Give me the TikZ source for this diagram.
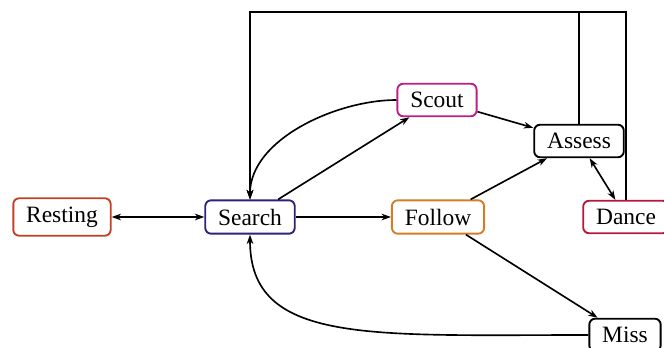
\documentclass[tikz,border=0pt]{standalone}
\usepackage{fontspec}
\setmainfont{Liberation Serif}
\usetikzlibrary{arrows.meta,positioning}

\definecolor{restred}{RGB}{196,64,36}
\definecolor{searchblue}{RGB}{45,35,120}
\definecolor{scoutmag}{RGB}{190,30,130}
\definecolor{followorg}{RGB}{210,125,40}
\definecolor{dancered}{RGB}{180,25,60}

\begin{document}
\begin{tikzpicture}[
    x=0.015cm,
    y=-0.015cm,
    >={Stealth[length=4pt,width=2.8pt,inset=1.2pt]},
    every node/.style={font=\normalsize},
    state/.style={
        rectangle,
        draw,
        thick,
        rounded corners=2.5pt,
        fill=white,
        inner xsep=5.5pt,
        inner ysep=3.6pt
    },
    link/.style={
        ->,
        line width=0.7pt
    },
    twoway/.style={
        <->,
        line width=0.7pt
    }
]
\useasboundingbox (0,0) rectangle (664,348);

% States
\node[state, draw=restred] (resting) at (62, 217) {Resting};
\node[state, draw=searchblue] (search) at (250, 217) {Search};
\node[state, draw=followorg] (follow) at (438, 217) {Follow};
\node[state, draw=scoutmag] (scout) at (437, 100) {Scout};
\node[state] (assess) at (579, 141) {Assess};
\node[state, draw=dancered] (dance) at (626, 217) {Dance};
\node[state] (miss) at (625, 335) {Miss};

% Top rail
\coordinate (top) at (0, 12);

% Transitions
\draw[twoway] (resting) -- (search);
\draw[link] (search) -- (follow);
\draw[link] (search) -- (scout);
\draw[link] (scout.west) .. controls +(-60,0) and +(0,-60) .. (search.north);
\draw[link] (scout) -- (assess);
\draw[link] (follow) -- (assess);
\draw[link] (follow) -- (miss);
\draw[link] (miss.west) .. controls +(-220,0) and +(0,110) .. (search.south);
\draw[twoway] (assess) -- (dance);

% Returns over the top
\draw[link] (assess.north) -- (assess.north |- top) -| (search.north);
\draw[link] (dance.north) -- (dance.north |- top) -| (search.north);

\end{tikzpicture}
\end{document}
